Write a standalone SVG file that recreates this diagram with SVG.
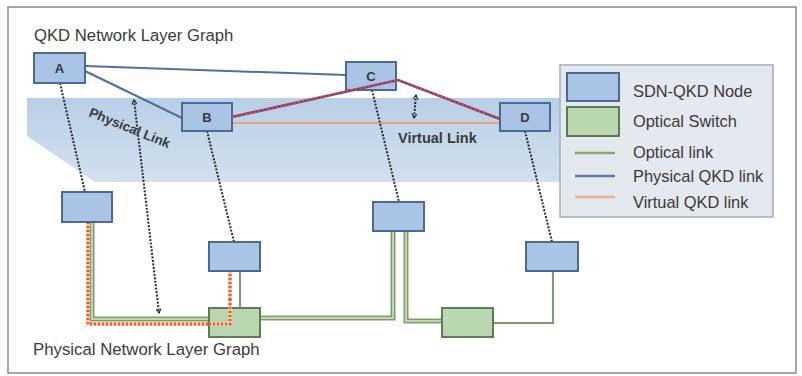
<svg xmlns="http://www.w3.org/2000/svg" width="802" height="376" viewBox="0 0 802 376">
<defs>
<linearGradient id="band" x1="0" y1="0" x2="0" y2="1">
<stop offset="0" stop-color="#b9cfe6"/>
<stop offset="1" stop-color="#d2e0ef"/>
</linearGradient>
<marker id="chev" viewBox="0 0 10 10" refX="8" refY="5" markerWidth="6" markerHeight="6" orient="auto-start-reverse" markerUnits="userSpaceOnUse">
<path d="M1,1 L8,5 L1,9" fill="none" stroke="#2a2a2a" stroke-width="2"/>
</marker>
<style>
text{font-family:"Liberation Sans",Arial,sans-serif;fill:#3a3a3a}
.node{fill:#a9c4e4;stroke:#4a6a95;stroke-width:2}
.sw{fill:#b9d7b0;stroke:#5f7a55;stroke-width:2}
.lbl{font-size:13px;font-weight:bold;text-anchor:middle}
.phys{fill:none;stroke:#4f6f9f;stroke-width:2}
.virt{fill:none;stroke:#e8a074;stroke-width:2}
.vbase{fill:none;stroke:#6a4a6e;stroke-width:2.5}
.vdot{fill:none;stroke:#e8455a;stroke-width:2.5;stroke-dasharray:2 2.5}
.dot{fill:none;stroke:#2a2a2a;stroke-width:2;stroke-dasharray:2 1.5}
.opo{fill:none;stroke:#7f9c6c;stroke-width:5}
.opi{fill:none;stroke:#d7e6cb;stroke-width:1.5}
.ops{fill:none;stroke:#7f9c6c;stroke-width:2}
.orb{fill:none;stroke:#f6cdb0;stroke-width:4}
.ord{fill:none;stroke:#d9602a;stroke-width:3;stroke-dasharray:2 2}
.leg{font-size:16.4px}
.ann{font-weight:bold}
</style>
</defs>
<rect x="0" y="0" width="802" height="376" fill="#ffffff"/>
<rect x="8" y="7" width="788" height="366" fill="none" stroke="#8a8a8a" stroke-width="1.5"/>
<polygon points="27,98 565,98 565,182 95,182 27,136" fill="url(#band)"/>
<text x="34" y="41" font-size="16.7">QKD Network Layer Graph</text>
<text x="33" y="355" font-size="16.8">Physical Network Layer Graph</text>

<g id="connectors">
<line class="phys" x1="85" y1="66" x2="346" y2="75"/>
<line class="phys" x1="85" y1="71" x2="182" y2="118"/>
<line class="virt" x1="232" y1="123" x2="500" y2="123"/>
<polyline class="opo" points="92,222 92,319 209,319"/>
<polyline class="opi" points="92,222 92,319 209,319"/>
<polyline class="opo" points="260,318 393,318 393,231"/>
<polyline class="opi" points="260,318 393,318 393,231"/>
<polyline class="opo" points="406,231 406,321 442,321"/>
<polyline class="opi" points="406,231 406,321 442,321"/>
<line class="ops" x1="240" y1="271" x2="240" y2="308"/>
<polyline class="ops" points="493,323 553,323 553,271"/>
<polyline class="orb" points="88,222 88,324 230,324 230,271"/>
<polyline class="ord" points="88,222 88,324 230,324 230,271"/>
<line class="dot" x1="60" y1="83" x2="85" y2="192"/>
<line class="dot" x1="207" y1="131" x2="234" y2="242"/>
<line class="dot" x1="372" y1="90" x2="399" y2="202"/>
<line class="dot" x1="525" y1="131" x2="552" y2="242"/>
<line class="dot" x1="134" y1="100" x2="159" y2="313" marker-start="url(#chev)" marker-end="url(#chev)"/>
<line class="dot" x1="416" y1="95" x2="414" y2="118" marker-start="url(#chev)" marker-end="url(#chev)"/>
</g>

<g id="node-A"><rect class="node" x="34" y="53" width="51" height="30"/><text class="lbl" x="59.5" y="73">A</text></g>
<g id="node-B"><rect class="node" x="182" y="103" width="50" height="28"/><text class="lbl" x="207" y="122">B</text></g>
<g id="node-C"><rect class="node" x="346" y="62" width="50" height="28"/><text class="lbl" x="371" y="81">C</text></g>
<g id="node-D"><rect class="node" x="500" y="103" width="50" height="28"/><text class="lbl" x="525" y="122">D</text></g>

<g id="virtual-path-BCD">
<polyline class="vbase" points="232,117 398,80 500,119"/>
<polyline class="vdot" points="232,117 398,80 500,119"/>
</g>

<g id="phys-A"><rect class="node" x="62" y="192" width="50" height="30"/></g>
<g id="phys-B"><rect class="node" x="209" y="242" width="51" height="29"/></g>
<g id="phys-C"><rect class="node" x="373" y="202" width="51" height="29"/></g>
<g id="phys-D"><rect class="node" x="526" y="242" width="52" height="29"/></g>
<g id="switch-1"><rect class="sw" x="209" y="308" width="51" height="29"/></g>
<g id="switch-2"><rect class="sw" x="442" y="308" width="51" height="29"/></g>
<polyline class="orb" points="209,324 230,324 230,300"/>
<polyline class="ord" points="209,324 230,324 230,300"/>

<text class="ann" x="88" y="116" font-size="13.5" transform="rotate(22 88 116)">Physical Link</text>
<text class="ann" x="398" y="143" font-size="14.5">Virtual Link</text>

<g id="legend">
<rect x="560" y="65" width="213" height="152" fill="#e4e8ef" stroke="#a3adbd" stroke-width="1.5"/>
<rect class="node" x="567" y="73" width="52" height="28"/>
<rect class="sw" x="567" y="107" width="52" height="29"/>
<line x1="575" y1="153" x2="615" y2="153" stroke="#8aa66f" stroke-width="2.5"/>
<line x1="575" y1="176" x2="615" y2="176" stroke="#5a7aaa" stroke-width="2.5"/>
<line x1="575" y1="197" x2="615" y2="197" stroke="#f0b090" stroke-width="2.5"/>
<text class="leg" x="633" y="97">SDN-QKD Node</text>
<text class="leg" x="633" y="127">Optical Switch</text>
<text class="leg" x="633" y="158">Optical link</text>
<text class="leg" x="633" y="182">Physical QKD link</text>
<text class="leg" x="633" y="208">Virtual QKD link</text>
</g>
</svg>
